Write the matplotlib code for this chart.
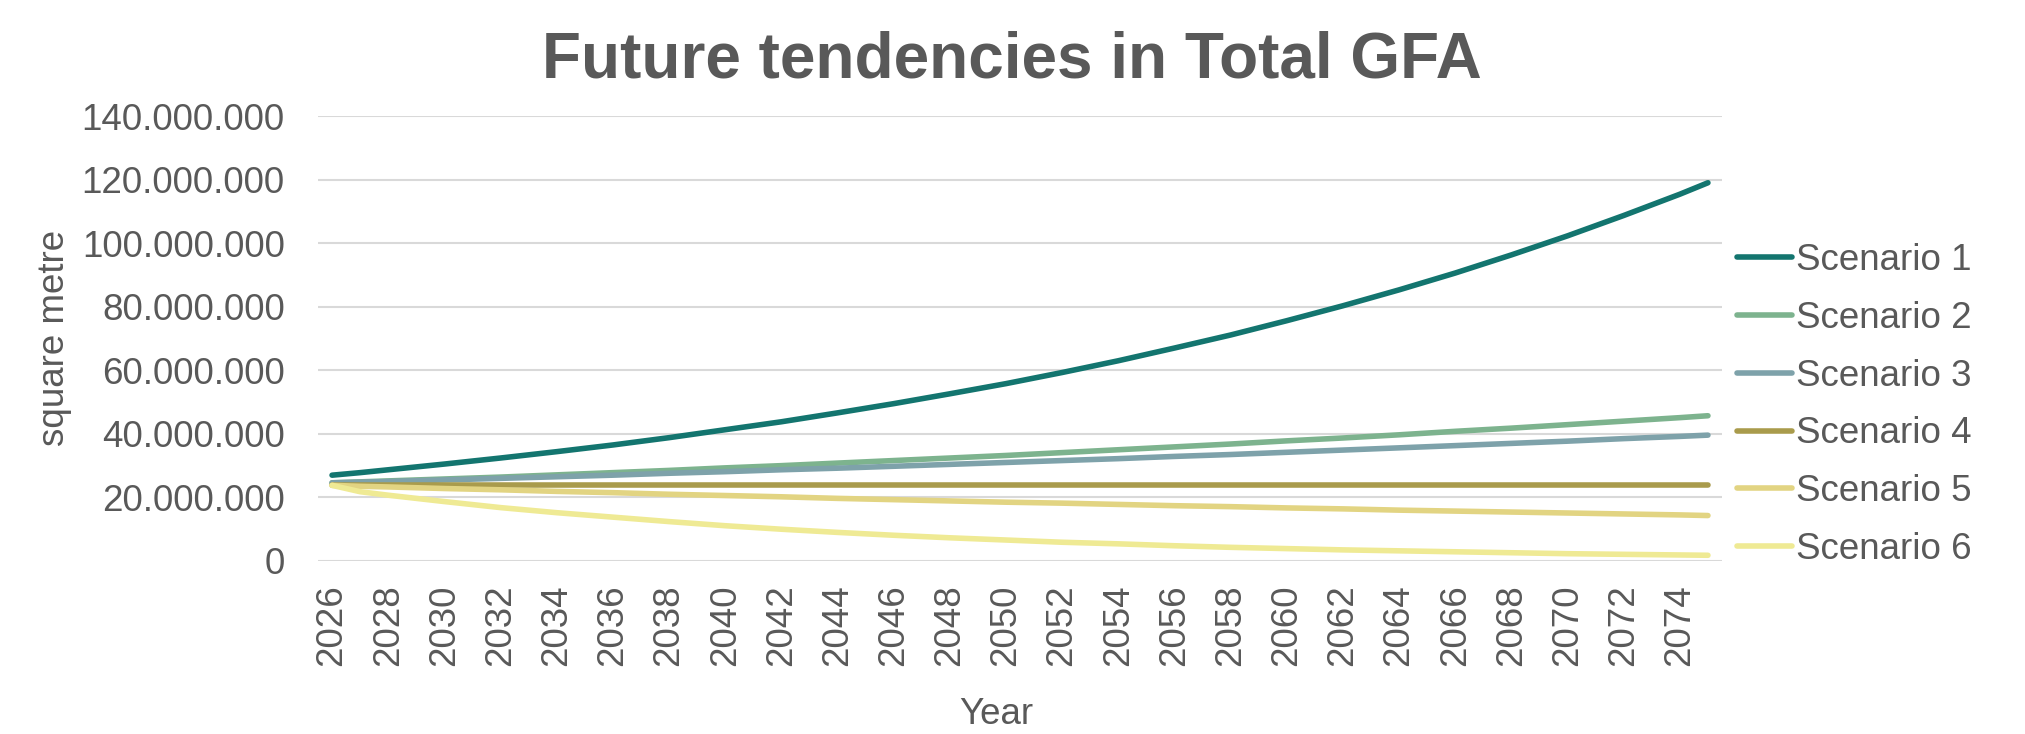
import numpy as np
import matplotlib
matplotlib.use('Agg')
import matplotlib.pyplot as plt

# values, in million square metre
years = [2026, 2027, 2028, 2030, 2032, 2034, 2036, 2038, 2040, 2042, 2044, 2046, 2048,
         2050, 2052, 2054, 2056, 2058, 2060, 2062, 2064, 2066, 2068, 2070, 2072, 2074, 2075]

scen1 = [27.0, 27.8, 28.7, 30.5, 32.4, 34.4, 36.5, 38.8, 41.3, 43.8, 46.6, 49.5, 52.6,
         55.8, 59.3, 63.0, 67.0, 71.1, 75.6, 80.3, 85.3, 90.6, 96.3, 102.3, 108.7, 115.4, 119.0]
scen2 = [24.6, 24.9, 25.2, 25.8, 26.4, 27.1, 27.8, 28.5, 29.3, 30.0, 30.8, 31.6, 32.4,
         33.2, 34.1, 35.0, 35.9, 36.8, 37.8, 38.7, 39.7, 40.8, 41.8, 42.9, 44.0, 45.1, 45.7]
scen3 = [24.6, 24.8, 25.0, 25.5, 26.0, 26.5, 27.0, 27.6, 28.1, 28.7, 29.2, 29.8, 30.4,
         31.0, 31.6, 32.2, 32.9, 33.5, 34.2, 34.9, 35.6, 36.3, 37.0, 37.7, 38.5, 39.2, 39.6]
scen4 = [23.8] * len(years)
scen5 = [23.8, 23.5, 23.3, 22.8, 22.4, 21.9, 21.5, 21.0, 20.6, 20.2, 19.7, 19.3, 18.9,
         18.5, 18.2, 17.8, 17.4, 17.1, 16.7, 16.4, 16.0, 15.7, 15.4, 15.1, 14.8, 14.5, 14.3]
scen6 = [23.8, 21.8, 20.7, 18.7, 16.8, 15.2, 13.8, 12.4, 11.1, 10.0, 9.0, 8.1, 7.3,
         6.6, 5.9, 5.4, 4.8, 4.3, 3.9, 3.5, 3.2, 2.9, 2.6, 2.3, 2.1, 1.9, 1.8]

names = ['Scenario 1', 'Scenario 2', 'Scenario 3', 'Scenario 4', 'Scenario 5', 'Scenario 6']
colors = ['#13756F', '#7DB38E', '#7EA2AA', '#A99B4C', '#E2D482', '#EFEA94']

tick_years = list(range(2026, 2075, 2))
yticks = [0, 20, 40, 60, 80, 100, 120, 140]

grey = '#595959'
plt.rcParams['font.family'] = ['Liberation Sans', 'DejaVu Sans']

fig = plt.figure(figsize=(20.25, 7.34), dpi=100)
ax = fig.add_axes([318 / 2025, 1 - 561 / 734, (1722 - 318) / 2025, (561 - 116) / 734])

series = [scen1, scen2, scen3, scen4, scen5, scen6]
for s, name, c in zip(series, names, colors):
    ax.plot(years, np.array(s) * 1e6, color=c, lw=4, label=name,
            solid_capstyle='round', solid_joinstyle='round')

ax.set_xlim(2025.5, 2075.5)
ax.set_ylim(0, 140e6)
ax.set_yticks([v * 1e6 for v in yticks])
ax.set_yticklabels(['0' if v == 0 else f'{v * 1000000:,}'.replace(',', '.') for v in yticks])
ax.set_xticks(tick_years)
ax.set_xticklabels([str(y) for y in tick_years], rotation=90)
ax.tick_params(length=0, labelsize=26.5, labelcolor=grey)
ax.tick_params(axis='y', pad=24)
ax.tick_params(axis='x', pad=17)
ax.grid(axis='y', color='#D9D9D9', lw=1.5)
ax.set_axisbelow(True)
for sp in ax.spines.values():
    sp.set_visible(False)

fig.text(1012 / 2025, 1 - 60 / 734, 'Future tendencies in Total GFA', ha='center', va='center',
         fontsize=46, fontweight='bold', color=grey)
fig.text(54 / 2025, 1 - 338 / 734, 'square metre', rotation=90, ha='center', va='center',
         fontsize=26.5, color=grey)
fig.text(996 / 2025, 1 - 714 / 734, 'Year', ha='center', va='center', fontsize=26.5, color=grey)

leg = ax.legend(loc='center left', bbox_to_anchor=(1722 / 2025, 1 - 405 / 734),
                bbox_transform=fig.transFigure, frameon=False, fontsize=26.5,
                handlelength=1.5, handletextpad=0.1, labelspacing=0.62, borderaxespad=0)
for t in leg.get_texts():
    t.set_color(grey)

fig.savefig('out.png', dpi=100)
